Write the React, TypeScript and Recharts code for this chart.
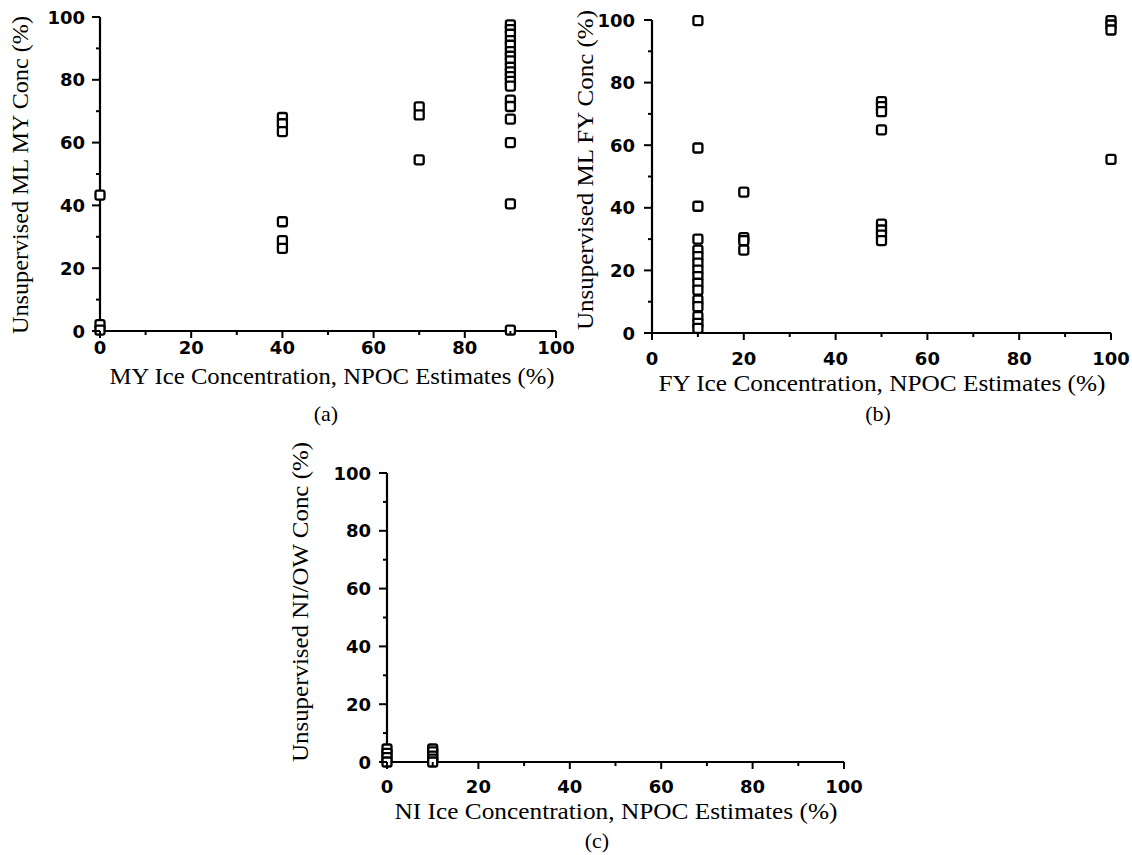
import React from "react";
import { ScatterChart, Scatter, XAxis, YAxis } from "recharts";

// ---------- data ----------
const tickValues = [0, 10, 20, 30, 40, 50, 60, 70, 80, 90, 100];

// Panel (a): MY ice
const myX = [0, 40, 70, 90];
const myAt0 = [43.3, 2, 0.3];
const myAt40 = [68, 66, 63.5, 34.8, 28.8, 26.3];
const myAt70 = [71.4, 68.8, 54.5];
const myAt90 = [97.5, 96, 94.5, 92.5, 91, 89, 87.5, 86, 84, 82.5, 81, 79.5, 78, 73.5, 71.5, 67.5, 60, 40.5, 0.3];

// Panel (b): FY ice
const fyX = [10, 20, 50, 100];
const fyAt10 = [99.8, 59.1, 40.5, 30, 26.5, 24.4, 22.3, 20.1, 18, 15.9, 13.7, 10.5, 8.4, 5.2, 3.1, 1.5];
const fyAt20 = [45, 30.5, 29.5, 26.5];
const fyAt50 = [73.9, 72.3, 70.7, 64.9, 34.8, 32.9, 31.3, 29.5];
const fyAt100 = [99.8, 98.4, 96.8, 55.5];

// Panel (c): NI ice
const niX = [0, 10];
const niAt0 = [4.5, 3, 1.5, 0];
const niAt10 = [4.5, 3.5, 2, 1, 0];

const build = (xs: number[], groups: number[][]) =>
  xs.flatMap((x, i) => groups[i].map((y) => ({ x, y })));

const dataA = build(myX, [myAt0, myAt40, myAt70, myAt90]);
const dataB = build(fyX, [fyAt10, fyAt20, fyAt50, fyAt100]);
const dataC = build(niX, [niAt0, niAt10]);

// ---------- styling helpers ----------
const tickFont = "'DejaVu Sans', sans-serif";
const titleFont = "'Liberation Serif', 'Times New Roman', serif";

const XTick = (props: any) => {
  const { x, y, payload, labelDy } = props;
  const v = payload.value;
  const major = v % 20 === 0;
  return (
    <g>
      <line x1={x} x2={x} y1={y} y2={y + (major ? 7 : 4)} stroke="#000" strokeWidth={2} />
      {major && (
        <text x={x} y={y + labelDy} textAnchor="middle" fontFamily={tickFont} fontWeight="bold" fontSize={18} fill="#000">
          {v}
        </text>
      )}
    </g>
  );
};

const YTick = (props: any) => {
  const { x, y, payload, labelDx } = props;
  const v = payload.value;
  const major = v % 20 === 0;
  return (
    <g>
      <line x1={x} x2={x - (major ? 8 : 4)} y1={y} y2={y} stroke="#000" strokeWidth={2} />
      {major && (
        <text x={x - labelDx} y={y + 6.5} textAnchor="end" fontFamily={tickFont} fontWeight="bold" fontSize={18} fill="#000">
          {v}
        </text>
      )}
    </g>
  );
};

const SquareMarker = (props: any) => {
  const { cx, cy } = props;
  if (cx == null || cy == null) return null;
  return <rect x={cx - 4.5} y={cy - 4.5} width={9} height={9} rx={1.8} fill="#fff" stroke="#000" strokeWidth={2.3} />;
};

type PanelProps = {
  data: { x: number; y: number }[];
  left: number;
  top: number;
  plotW: number;
  plotH: number;
  xLabelDy: number;
  yLabelDx: number;
};

const Panel = ({ data, left, top, plotW, plotH, xLabelDy, yLabelDx }: PanelProps) => {
  const margin = { top: 10, right: 20, bottom: 10, left: 0 };
  const yW = 60;
  const xH = 30;
  const width = margin.left + yW + plotW + margin.right;
  const height = margin.top + plotH + xH + margin.bottom;
  return (
    <div style={{ position: "absolute", left: left - yW - margin.left, top: top - margin.top }}>
      <ScatterChart width={width} height={height} margin={margin}>
        <XAxis
          type="number"
          dataKey="x"
          domain={[0, 100]}
          ticks={tickValues}
          interval={0}
          height={xH}
          tickSize={0}
          tickMargin={0}
          tickLine={false}
          axisLine={{ stroke: "#000", strokeWidth: 2.2 }}
          tick={(p: any) => <XTick {...p} labelDy={xLabelDy} />}
        />
        <YAxis
          type="number"
          dataKey="y"
          domain={[0, 100]}
          ticks={tickValues}
          interval={0}
          width={yW}
          tickSize={0}
          tickMargin={0}
          tickLine={false}
          axisLine={{ stroke: "#000", strokeWidth: 2.2 }}
          tick={(p: any) => <YTick {...p} labelDx={yLabelDx} />}
        />
        <Scatter data={data} isAnimationActive={false} shape={<SquareMarker />} />
      </ScatterChart>
    </div>
  );
};

const RotTitle = ({ x, y, len, text }: { x: number; y: number; len: number; text: string }) => (
  <text
    x={0}
    y={0}
    transform={`translate(${x},${y}) rotate(-90)`}
    textAnchor="middle"
    fontFamily={titleFont}
    fontSize={23}
    textLength={len}
    lengthAdjust="spacingAndGlyphs"
    fill="#000"
  >
    {text}
  </text>
);

const HTitle = ({ x, y, len, text }: { x: number; y: number; len: number; text: string }) => (
  <text x={x} y={y} textAnchor="middle" fontFamily={titleFont} fontSize={23} textLength={len} lengthAdjust="spacingAndGlyphs" fill="#000">
    {text}
  </text>
);

const SubLabel = ({ x, y, text }: { x: number; y: number; text: string }) => (
  <text x={x} y={y} textAnchor="middle" fontFamily={titleFont} fontSize={22} fill="#000">
    {text}
  </text>
);

export default function App() {
  return (
    <div style={{ position: "absolute", left: 0, top: 0, width: 1132, height: 855, background: "#fff" }}>
      <svg width={1132} height={855} style={{ position: "absolute", left: 0, top: 0 }}>
        <RotTitle x={28} y={175} len={318} text="Unsupervised ML MY Conc (%)" />
        <HTitle x={332} y={384} len={445} text="MY Ice Concentration, NPOC Estimates (%)" />
        <SubLabel x={326} y={421} text="(a)" />

        <RotTitle x={593} y={170} len={320} text="Unsupervised ML FY Conc (%)" />
        <HTitle x={882} y={391} len={447} text="FY Ice Concentration, NPOC Estimates (%)" />
        <SubLabel x={878} y={421} text="(b)" />

        <RotTitle x={308} y={602} len={320} text="Unsupervised NI/OW Conc (%)" />
        <HTitle x={616} y={819} len={443} text="NI Ice Concentration, NPOC Estimates (%)" />
        <SubLabel x={597} y={848} text="(c)" />
      </svg>
      <Panel data={dataA} left={100} top={17} plotW={456} plotH={314} xLabelDy={22.5} yLabelDx={15} />
      <Panel data={dataB} left={652} top={20} plotW={459} plotH={313} xLabelDy={32} yLabelDx={17} />
      <Panel data={dataC} left={387} top={473} plotW={457} plotH={289} xLabelDy={30.5} yLabelDx={16} />
    </div>
  );
}
